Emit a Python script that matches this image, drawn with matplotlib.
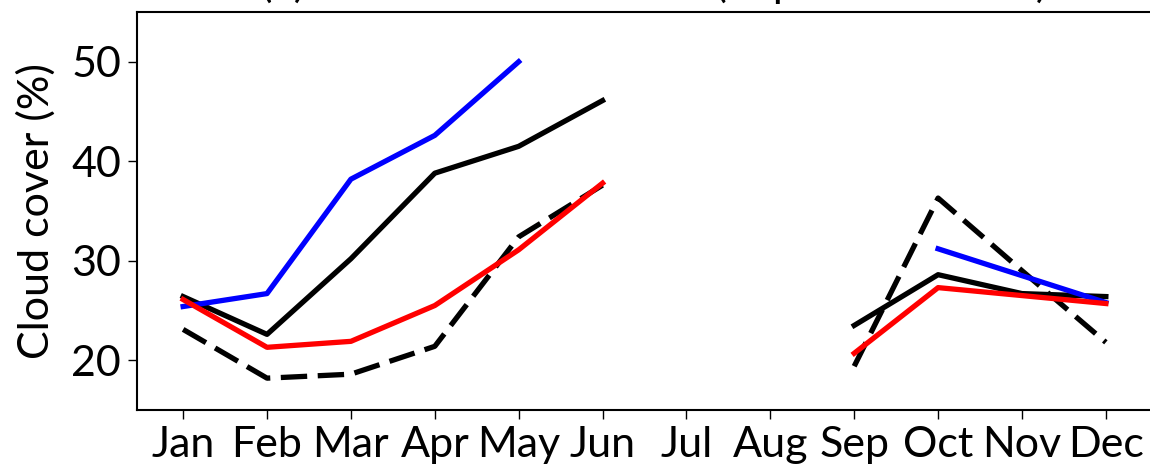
import matplotlib
matplotlib.use('Agg')
import matplotlib.pyplot as plt
from matplotlib import font_manager
import numpy as np

# monthly cloud cover (%), NaN where no value
months = ['Jan', 'Feb', 'Mar', 'Apr', 'May', 'Jun', 'Jul', 'Aug', 'Sep', 'Oct', 'Nov', 'Dec']
nan = np.nan
black_solid = [26.4, 22.6, 30.2, 38.8, 41.5, 46.1, nan, nan, 23.5, 28.6, 26.7, 26.4]
black_dash = [23.1, 18.2, 18.6, 21.4, 32.4, 37.6, nan, nan, 19.4, 36.3, 29.0, 21.8]
blue_line = [25.4, 26.7, 38.2, 42.6, 50.0, nan, nan, nan, nan, 31.2, 28.5, 25.8]
red_line = [26.1, 21.3, 21.9, 25.5, 31.1, 37.8, nan, nan, 20.7, 27.3, 26.5, 25.7]

available = set(f.name for f in font_manager.fontManager.ttflist)
fam = 'Liberation Sans Narrow' if 'Liberation Sans Narrow' in available else 'Lato'
plt.rcParams['font.family'] = [fam, 'DejaVu Sans']

fig = plt.figure(figsize=(11.5, 4.69), dpi=100)
ax = fig.add_axes([137/1150, 1 - 410/469, 1015/1150, 398/469])

x = np.arange(1, 13)
lw = 3.8
ax.plot(x, black_solid, color='k', lw=lw)
ax.plot(x, black_dash, color='k', lw=lw, dashes=(5, 2))
ax.plot(x, blue_line, color='b', lw=lw)
ax.plot(x, red_line, color='r', lw=lw)

ax.set_ylim(15, 55)
ax.set_yticks([20, 30, 40, 50])
ax.set_xticks(x)
ax.set_xticklabels(months)
ax.tick_params(labelsize=31, length=6.5, width=1.0, pad=5)
for s in ax.spines.values():
    s.set_linewidth(1.5)
ax.set_ylabel('Cloud cover (%)', fontsize=31, fontweight='normal', labelpad=11)
# title sits mostly above the figure edge, as in the original crop
ax.set_title('(a) Mean of cloud cover (Sept \u2013 Jun 2020)', fontsize=31,
             fontweight='normal', pad=11, x=0.51)

fig.savefig('out.png', dpi=100)
